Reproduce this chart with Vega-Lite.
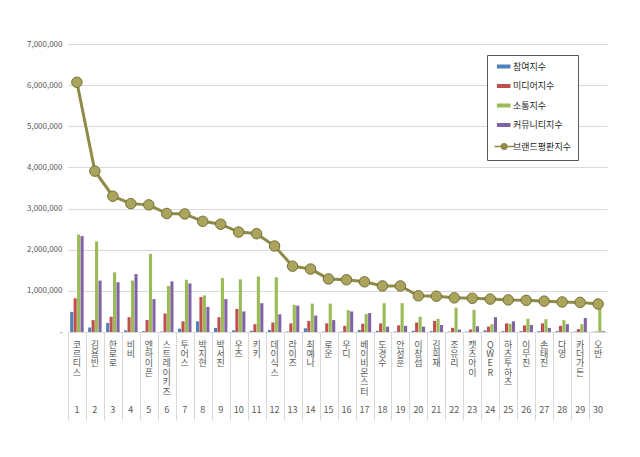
{
  "$schema": "https://vega.github.io/schema/vega-lite/v6.json",
  "width": 539,
  "height": 288,
  "autosize": "none",
  "padding": {"left": 68, "top": 44, "right": 33, "bottom": 125},
  "background": "white",
  "config": {
    "view": {"stroke": null},
    "font": "Noto Sans CJK KR"
  },
  "data": {
    "values": [
      {"rank": 1, "name": "코르티스", "참여지수": 490000, "미디어지수": 820000, "소통지수": 2370000, "커뮤니티지수": 2330000, "브랜드평판지수": 6070000},
      {"rank": 2, "name": "김용빈", "참여지수": 110000, "미디어지수": 290000, "소통지수": 2200000, "커뮤니티지수": 1250000, "브랜드평판지수": 3910000},
      {"rank": 3, "name": "한로로", "참여지수": 220000, "미디어지수": 370000, "소통지수": 1450000, "커뮤니티지수": 1210000, "브랜드평판지수": 3300000},
      {"rank": 4, "name": "비비", "참여지수": 40000, "미디어지수": 360000, "소통지수": 1250000, "커뮤니티지수": 1410000, "브랜드평판지수": 3120000},
      {"rank": 5, "name": "엔하이픈", "참여지수": 20000, "미디어지수": 290000, "소통지수": 1900000, "커뮤니티지수": 800000, "브랜드평판지수": 3090000},
      {"rank": 6, "name": "스트레이키즈", "참여지수": 10000, "미디어지수": 450000, "소통지수": 1120000, "커뮤니티지수": 1230000, "브랜드평판지수": 2880000},
      {"rank": 7, "name": "투어스", "참여지수": 80000, "미디어지수": 260000, "소통지수": 1270000, "커뮤니티지수": 1180000, "브랜드평판지수": 2870000},
      {"rank": 8, "name": "박지현", "참여지수": 260000, "미디어지수": 850000, "소통지수": 890000, "커뮤니티지수": 610000, "브랜드평판지수": 2690000},
      {"rank": 9, "name": "박서진", "참여지수": 100000, "미디어지수": 360000, "소통지수": 1310000, "커뮤니티지수": 800000, "브랜드평판지수": 2620000},
      {"rank": 10, "name": "우즈", "참여지수": 40000, "미디어지수": 560000, "소통지수": 1280000, "커뮤니티지수": 500000, "브랜드평판지수": 2430000},
      {"rank": 11, "name": "키키", "참여지수": 30000, "미디어지수": 190000, "소통지수": 1350000, "커뮤니티지수": 700000, "브랜드평판지수": 2390000},
      {"rank": 12, "name": "데이식스", "참여지수": 50000, "미디어지수": 230000, "소통지수": 1330000, "커뮤니티지수": 430000, "브랜드평판지수": 2090000},
      {"rank": 13, "name": "라이즈", "참여지수": 10000, "미디어지수": 210000, "소통지수": 660000, "커뮤니티지수": 640000, "브랜드평판지수": 1600000},
      {"rank": 14, "name": "최예나", "참여지수": 90000, "미디어지수": 270000, "소통지수": 690000, "커뮤니티지수": 400000, "브랜드평판지수": 1530000},
      {"rank": 15, "name": "로운", "참여지수": 10000, "미디어지수": 210000, "소통지수": 690000, "커뮤니티지수": 290000, "브랜드평판지수": 1290000},
      {"rank": 16, "name": "우디", "참여지수": 10000, "미디어지수": 150000, "소통지수": 530000, "커뮤니티지수": 500000, "브랜드평판지수": 1270000},
      {"rank": 17, "name": "베이비몬스터", "참여지수": 50000, "미디어지수": 200000, "소통지수": 440000, "커뮤니티지수": 460000, "브랜드평판지수": 1220000},
      {"rank": 18, "name": "도경수", "참여지수": 30000, "미디어지수": 210000, "소통지수": 700000, "커뮤니티지수": 130000, "브랜드평판지수": 1120000},
      {"rank": 19, "name": "안성훈", "참여지수": 10000, "미디어지수": 160000, "소통지수": 700000, "커뮤니티지수": 150000, "브랜드평판지수": 1120000},
      {"rank": 20, "name": "이창섭", "참여지수": 30000, "미디어지수": 230000, "소통지수": 370000, "커뮤니티지수": 130000, "브랜드평판지수": 880000},
      {"rank": 21, "name": "김희재", "참여지수": 20000, "미디어지수": 270000, "소통지수": 320000, "커뮤니티지수": 170000, "브랜드평판지수": 870000},
      {"rank": 22, "name": "조유리", "참여지수": 10000, "미디어지수": 100000, "소통지수": 590000, "커뮤니티지수": 60000, "브랜드평판지수": 830000},
      {"rank": 23, "name": "캣츠아이", "참여지수": 10000, "미디어지수": 60000, "소통지수": 540000, "커뮤니티지수": 140000, "브랜드평판지수": 820000},
      {"rank": 24, "name": "QWER", "참여지수": 40000, "미디어지수": 130000, "소통지수": 190000, "커뮤니티지수": 360000, "브랜드평판지수": 800000},
      {"rank": 25, "name": "하츠투하츠", "참여지수": 20000, "미디어지수": 210000, "소통지수": 200000, "커뮤니티지수": 260000, "브랜드평판지수": 780000},
      {"rank": 26, "name": "이무진", "참여지수": 20000, "미디어지수": 160000, "소통지수": 320000, "커뮤니티지수": 170000, "브랜드평판지수": 770000},
      {"rank": 27, "name": "손태진", "참여지수": 20000, "미디어지수": 210000, "소통지수": 310000, "커뮤니티지수": 100000, "브랜드평판지수": 750000},
      {"rank": 28, "name": "다영", "참여지수": 20000, "미디어지수": 150000, "소통지수": 290000, "커뮤니티지수": 190000, "브랜드평판지수": 730000},
      {"rank": 29, "name": "카더가든", "참여지수": 10000, "미디어지수": 70000, "소통지수": 190000, "커뮤니티지수": 340000, "브랜드평판지수": 720000},
      {"rank": 30, "name": "오반", "참여지수": 5000, "미디어지수": 10000, "소통지수": 650000, "커뮤니티지수": 20000, "브랜드평판지수": 680000}
    ]
  },
  "transform": [
    {"calculate": "datum.rank + '|' + datum.name", "as": "key"}
  ],
  "encoding": {
    "x": {
      "field": "key",
      "type": "nominal",
      "sort": {"field": "rank", "op": "min"},
      "title": null,
      "scale": {"paddingInner": 0.25, "paddingOuter": 0.12},
      "axis": {
        "grid": false,
        "domainColor": "#d9d9d9",
        "tickColor": "#d9d9d9",
        "bandPosition": -0.125,
        "tickSize": 88,
        "labelPadding": -80,
        "labelAngle": 0,
        "labelAlign": "center",
        "labelBaseline": "top",
        "labelLineHeight": 9.4,
        "labelFontSize": 9,
        "labelColor": "#595959",
        "labelOverlap": false,
        "labelExpr": "split(join(split(split(datum.value, '|')[1], ''), '|') + substring('|\u200b|\u200b|\u200b|\u200b|\u200b|\u200b|\u200b|\u200b', 0, 2 * (7 - length(split(datum.value, '|')[1]))) + '|' + split(datum.value, '|')[0], '|')"
      }
    }
  },
  "layer": [
    {
      "transform": [
        {"fold": ["참여지수", "미디어지수", "소통지수", "커뮤니티지수"], "as": ["series", "value"]}
      ],
      "mark": {"type": "bar"},
      "encoding": {
        "xOffset": {
          "field": "series",
          "type": "nominal",
          "scale": {"domain": ["참여지수", "미디어지수", "소통지수", "커뮤니티지수"], "paddingInner": 0.1}
        },
        "y": {
          "field": "value",
          "type": "quantitative",
          "title": null,
          "scale": {"domain": [0, 7000000], "nice": false},
          "axis": {
            "values": [0, 1000000, 2000000, 3000000, 4000000, 5000000, 6000000, 7000000],
            "labelExpr": "datum.value === 0 ? '-' : format(datum.value, ',')",
            "domain": false,
            "ticks": false,
            "gridColor": "#d9d9d9",
            "labelColor": "#595959",
            "labelFontSize": 8,
            "labelPadding": 6
          }
        },
        "color": {
          "field": "series",
          "type": "nominal",
          "scale": {
            "domain": ["참여지수", "미디어지수", "소통지수", "커뮤니티지수", "브랜드평판지수"],
            "range": ["#4f81bd", "#c0504d", "#9bbb59", "#8064a2", "#8f8a47"]
          },
          "legend": {
            "title": null,
            "orient": "none",
            "legendX": 419,
            "legendY": 11,
            "padding": 7,
            "rowPadding": 9.5,
            "symbolSize": 256,
            "labelOffset": 10,
            "labelFontSize": 9,
            "labelColor": "#262626",
            "labelExpr": "datum.label + '\u00a0\u00a0\u00a0\u00a0\u00a0\u00a0\u00a0\u00a0\u00a0\u00a0\u00a0\u00a0\u00a0\u00a0'",
            "strokeColor": "#595959",
            "fillColor": "white",
            "encode": {
              "symbols": {
                "update": {
                  "shape": {"signal": "datum.value === '브랜드평판지수' ? 'M-0.5,0H0.35A0.35,0.35,0,1,1,1.05,0H2M1.05,0A0.35,0.35,0,1,1,0.35,0' : 'M-0.2,-0.25H1.5V0.25H-0.2Z'"},
                  "fill": {"scale": "color", "field": "value"},
                  "stroke": {"scale": "color", "field": "value"},
                  "strokeWidth": {"signal": "datum.value === '브랜드평판지수' ? 1.5 : 0"},
                  "opacity": {"value": 1}
                }
              }
            }
          }
        }
      }
    },
    {
      "mark": {
        "type": "line",
        "color": "#8f8a47",
        "strokeWidth": 3,
        "point": {"filled": true, "size": 110, "fill": "#aaa45c", "stroke": "#75713a", "strokeWidth": 1}
      },
      "encoding": {
        "y": {"field": "브랜드평판지수", "type": "quantitative"}
      }
    }
  ]
}
